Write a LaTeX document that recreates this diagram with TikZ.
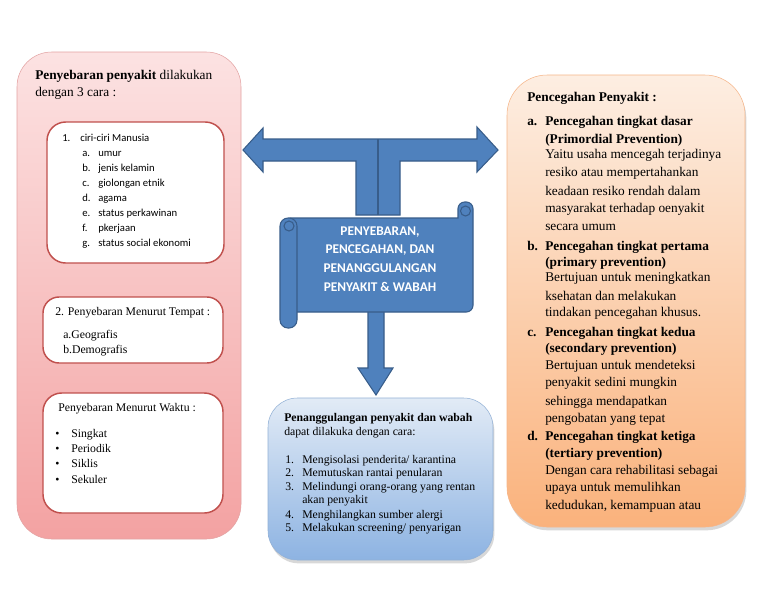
\documentclass[tikz,border=0pt]{standalone}
\usepackage{fontspec}
\setmainfont{Liberation Serif}
\newfontfamily\calibri{Carlito}
\usetikzlibrary{shadows}
\definecolor{pinktop}{HTML}{FCE2E2}
\definecolor{pinkbot}{HTML}{F3A2A2}
\definecolor{pinkline}{HTML}{E3A3A3}
\definecolor{boxred}{HTML}{C0504D}
\definecolor{orgtop}{HTML}{FDEEE2}
\definecolor{orgbot}{HTML}{FAB27C}
\definecolor{orgline}{HTML}{F6B68A}
\definecolor{bluetop}{HTML}{E2EBF6}
\definecolor{bluebot}{HTML}{8DB3E2}
\definecolor{blueline}{HTML}{93B1D6}
\definecolor{blk}{HTML}{4F81BD}
\definecolor{blkline}{HTML}{385D8A}
\begin{document}
\begin{tikzpicture}
  [x=.75pt,y=-.75pt,every node/.style={inner sep=0,anchor=west,text height=7pt,text depth=2pt},
   big/.style={font=\fontsize{10}{12}\selectfont},
   small/.style={font=\fontsize{8.8}{10}\selectfont},
   tiny/.style={font=\calibri\fontsize{8}{9}\selectfont},
   inbox/.style={draw=boxred,line width=1.1pt,fill=white,rounded corners=14pt},
   blkshape/.style={draw=blkline,fill=blk,line width=.8pt},
   scrolltext/.style={anchor=center,text=white,font=\calibri\bfseries\fontsize{10}{12}\selectfont}]
  \fill[white] (0,0) rectangle (768,594);
  \useasboundingbox (0,0) rectangle (768,594);

  % left panel
  \path[draw=pinkline,top color=pinktop,bottom color=pinkbot,rounded corners=26pt] (17,52) rectangle (241,539);
  \node[big] (lh1) at (35,76) {\textbf{Penyebaran penyakit} dilakukan};
  \node[big] (lh2) at (35,93) {dengan 3 cara :};
  \path[inbox] (47,122) rectangle (224,263);
  \node[tiny] (n1) at (62,138) {1.};
  \node[tiny] (t1) at (80,138) {ciri-ciri Manusia};
  \foreach \l/\y/\t in {a/153/umur,b/168/jenis kelamin,c/183/giolongan etnik,d/198/agama,
                        e/213/status perkawinan,f/228/pkerjaan,g/243/status social ekonomi}
  {
    \node[tiny] (l\l) at (82,\y) {\l.};
    \node[tiny] (t\l) at (98,\y) {\t};
  }
  \path[inbox,rounded corners=12pt] (43,297) rectangle (223,363);
  \node[small] (tp) at (55,312) {2. Penyebaran Menurut Tempat :};
  \node[small] (tpa) at (63,335) {a.Geografis};
  \node[small] (tpb) at (63,350) {b.Demografis};
  \path[inbox] (43,393) rectangle (223,513);
  \node[small] (wk) at (58,408) {Penyebaran Menurut Waktu :};
  \foreach \y/\t [count=\i] in {434/Singkat,449/Periodik,464/Siklis,480/Sekuler}
  {
    \node[small] (b\i) at (55,\y) {\textbullet};
    \node[small] (w\i) at (71,\y) {\t};
  }

  % right panel
  \path[draw=orgline,top color=orgtop,bottom color=orgbot,rounded corners=30pt,
        drop shadow={shadow xshift=1pt,shadow yshift=-2.5pt,opacity=.3}] (507,75) rectangle (745,527);
  \node[big] (rh) at (527,98) {\textbf{Pencegahan Penyakit :}};
  \foreach \l/\y/\t/\z/\s in {a/122/{Pencegahan tingkat dasar}/140/{(Primordial Prevention)},
                              b/247/{Pencegahan tingkat pertama}/263/{(primary prevention)},
                              c/333/{Pencegahan tingkat kedua}/349/{(secondary prevention)},
                              d/437/{Pencegahan tingkat ketiga}/454/{(tertiary prevention)}}
  {
    \node[big] (rl\l) at (527,\y) {\textbf{\l.}};
    \node[big] (rt\l) at (545,\y) {\textbf{\t}};
    \node[big] (rs\l) at (545,\z) {\textbf{\s}};
  }
  \foreach \y/\t [count=\i] in {155/Yaitu usaha mencegah terjadinya,173/resiko atau mempertahankan,
      192/keadaan resiko rendah dalam,209/masyarakat terhadap oenyakit,227/secara umum,
      278/Bertujuan untuk meningkatkan,297/ksehatan dan melakukan,313/tindakan pencegahan khusus.,
      366/Bertujuan untuk mendeteksi,383/penyakit sedini mungkin,402/sehingga mendapatkan,
      419/pengobatan yang tepat,471/Dengan cara rehabilitasi sebagai,488/upaya untuk memulihkan,
      506/{kedudukan, kemampuan atau}}
    \node[big] (r\i) at (545,\y) {\t};

  % block arrows and scroll
  \draw[blkshape] (243,150) -- (263,128) -- (263,139) -- (477,139) -- (477,127) -- (498,150)
    -- (477,172) -- (477,161) -- (400,161) -- (400,215) -- (356,215) -- (356,161)
    -- (263,161) -- (263,172) -- cycle;
  \draw[blkline,line width=.8pt] (378,139) -- (378,215);
  \draw[blkshape] (368,310) -- (384,310) -- (384,368) -- (393,368) -- (376,395) -- (358,368)
    -- (368,368) -- cycle;
  \draw[blkshape] (290,218) -- (458,218) [rounded corners=5pt] -- (458,202) -- (473,202)
    -- (473,312) -- (290,312) [sharp corners] -- cycle;
  \draw[blkshape] (465.5,211) circle (5);
  \draw[blkshape,rounded corners=6pt] (280,218) rectangle (297,328);
  \draw[blkshape] (289,226) circle (5);
  \foreach \y/\t [count=\i] in {232/{PENYEBARAN,},250/{PENCEGAHAN, DAN},269/PENANGGULANGAN,288/PENYAKIT \& WABAH}
    \node[scrolltext] (s\i) at (380,\y) {\t};

  % bottom panel
  \path[draw=blueline,top color=bluetop,bottom color=bluebot,rounded corners=22pt,
        drop shadow={shadow xshift=1pt,shadow yshift=-2.5pt,opacity=.3}] (268,398) rectangle (493,560);
  \node[small] (bh1) at (284,418) {\textbf{Penanggulangan penyakit dan wabah}};
  \node[small] (bh2) at (284,432) {dapat dilakuka dengan cara:};
  \foreach \n/\y/\t in {1/460/{Mengisolasi penderita/ karantina},2/473/{Memutuskan rantai penularan},
                        3/487/{Melindungi orang-orang yang rentan},4/515/{Menghilangkan sumber alergi},
                        5/528/{Melakukan screening/ penyarigan}}
  {
    \node[small] (bn\n) at (285,\y) {\n.};
    \node[small] (bt\n) at (302,\y) {\t};
  }
  \node[small] (bt3b) at (302,500) {akan penyakit};
\end{tikzpicture}
\end{document}
